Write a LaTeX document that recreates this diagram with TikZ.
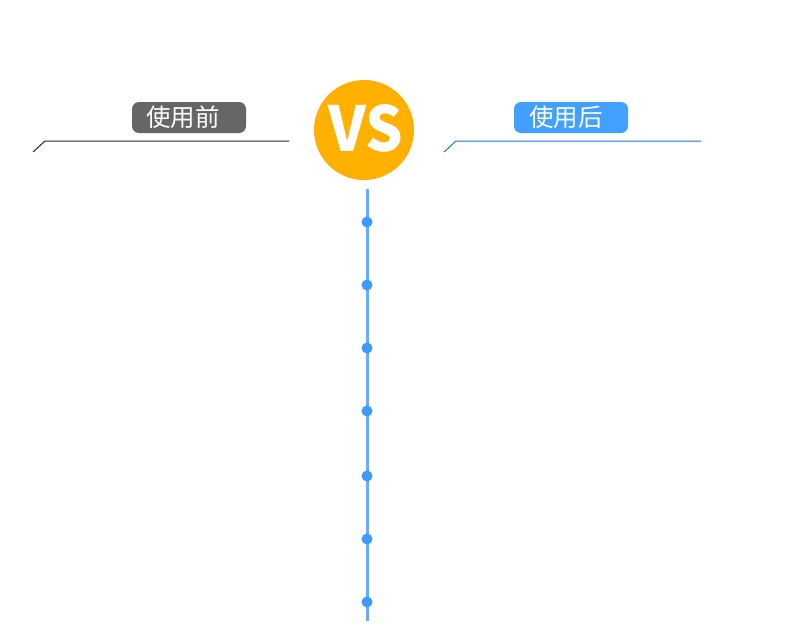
\documentclass[tikz,border=0pt]{standalone}
\usepackage{fontspec}
\newfontfamily\cjk{Noto Sans CJK SC}
\definecolor{vsorange}{HTML}{FFB000}
\definecolor{graybox}{HTML}{666666}
\definecolor{bluebox}{HTML}{42A0FF}
\definecolor{blueline}{HTML}{1E6FD9}
\definecolor{axisblue}{HTML}{6AAAFF}
\definecolor{dotblue}{HTML}{3D9BFF}
\tikzset{
  labelbox/.style={rounded corners=7pt, minimum width=114pt, minimum height=31pt, inner sep=0pt, text=white},
  labeltext/.style={inner sep=0pt, text=white, font=\cjk\fontsize{24.5}{24.5}\selectfont},
  dotnode/.style={circle, fill=dotblue, minimum size=11pt, inner sep=0pt},
}
\begin{document}
\begin{tikzpicture}[x=1pt,y=-1pt]
\useasboundingbox (0,0) rectangle (795,640);
\fill[white] (0,0) rectangle (795,640);
% labels
\node[labelbox, fill=graybox] (before) at (189,117.5) {};
\node[labeltext] (beforetxt) at (183,117.5) {使用前};
\node[labelbox, fill=bluebox] (after) at (571,117.5) {};
\node[labeltext] (aftertxt) at (566,117.5) {使用后};
% underline paths
\coordinate (l1) at (33,152); \coordinate (l2) at (45,141); \coordinate (l3) at (289,141);
\draw[line width=1pt, color=black!85] (l1) -- (l2) -- (l3);
\coordinate (r1) at (444,152); \coordinate (r2) at (456,141); \coordinate (r3) at (701,141);
\draw[line width=1pt, color=blueline] (r1) -- (r2) -- (r3);
% axis
\coordinate (top) at (367,189); \coordinate (bot) at (367,621);
\draw[line width=3pt, color=axisblue] (top) -- (bot);
\foreach \y [count=\i] in {222,285,348,411,476,539,602}
  \node[dotnode] (d\i) at (367,\y) {};
% VS
\node[circle, fill=vsorange, minimum size=100pt, inner sep=0pt] (vs) at (364,130) {};
\node[inner sep=0pt, text=white, font=\cjk\bfseries\fontsize{62}{62}\selectfont, xscale=0.95] (vstxt) at (366,128) {VS};
\end{tikzpicture}
\end{document}
